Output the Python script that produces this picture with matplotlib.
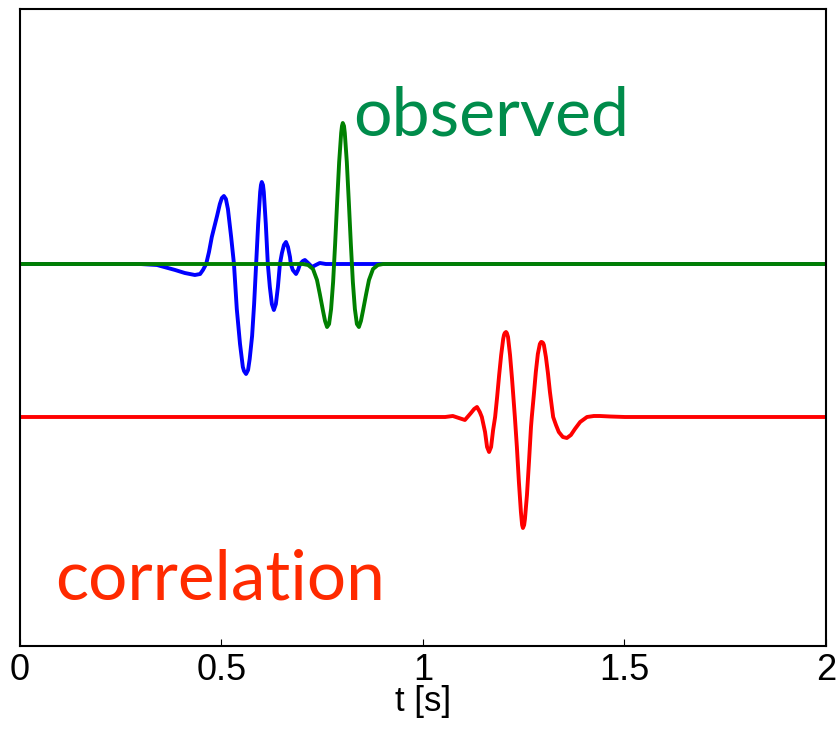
import matplotlib.pyplot as plt

# blue trace (synthetic)
t_blue = [0.0, 0.298, 0.340, 0.385, 0.409, 0.434, 0.447, 0.454, 0.462, 0.469, 0.476,
          0.489, 0.496, 0.501, 0.506, 0.511, 0.516, 0.524, 0.531, 0.538, 0.546, 0.553,
          0.556, 0.561, 0.566, 0.570, 0.576, 0.581, 0.586, 0.591, 0.596, 0.598, 0.600,
          0.603, 0.605, 0.610, 0.615, 0.620, 0.625, 0.630, 0.635, 0.640, 0.645, 0.650,
          0.655, 0.660, 0.665, 0.670, 0.672, 0.677, 0.685, 0.690, 0.695, 0.702, 0.707,
          0.715, 0.725, 0.734, 0.744, 0.759, 0.769, 2.0]
a_blue = [0.0, 0.0, -0.01, -0.06, -0.09, -0.11, -0.10, -0.06, 0.0, 0.12, 0.27,
          0.48, 0.60, 0.66, 0.68, 0.65, 0.55, 0.27, 0.0, -0.45, -0.80, -1.03,
          -1.07, -1.10, -1.06, -0.95, -0.72, -0.40, 0.0, 0.40, 0.72, 0.79, 0.82,
          0.79, 0.72, 0.40, 0.0, -0.23, -0.40, -0.46, -0.40, -0.23, 0.0, 0.11,
          0.19, 0.22, 0.17, 0.07, 0.0, -0.06, -0.10, -0.06, 0.0, 0.03, 0.04,
          0.01, -0.03, -0.01, 0.01, 0.0, 0.0, 0.0]

# green trace (observed)
t_green = [0.0, 0.702, 0.715, 0.727, 0.737, 0.744, 0.752, 0.757, 0.762, 0.767, 0.772,
           0.777, 0.782, 0.787, 0.792, 0.797, 0.799, 0.801, 0.804, 0.806, 0.811, 0.816,
           0.821, 0.826, 0.831, 0.836, 0.841, 0.846, 0.851, 0.859, 0.866, 0.876, 0.888,
           0.901, 2.0]
a_green = [0.0, 0.0, -0.01, -0.05, -0.16, -0.30, -0.47, -0.57, -0.63, -0.60, -0.45,
           -0.18, 0.20, 0.62, 1.02, 1.31, 1.38, 1.41, 1.38, 1.31, 1.02, 0.62,
           0.20, -0.18, -0.45, -0.60, -0.63, -0.57, -0.47, -0.30, -0.16, -0.05, -0.01,
           0.0, 0.0]

# red trace (correlation)
t_red = [0.0, 1.055, 1.074, 1.089, 1.104, 1.119, 1.127, 1.134, 1.141, 1.146, 1.154,
         1.159, 1.164, 1.169, 1.174, 1.179, 1.184, 1.189, 1.194, 1.199, 1.201, 1.203,
         1.206, 1.208, 1.211, 1.216, 1.221, 1.228, 1.233, 1.238, 1.243, 1.246, 1.248,
         1.251, 1.253, 1.258, 1.263, 1.268, 1.270, 1.275, 1.280, 1.285, 1.290, 1.293,
         1.295, 1.298, 1.300, 1.305, 1.310, 1.315, 1.323, 1.330, 1.337, 1.347, 1.357,
         1.367, 1.377, 1.390, 1.407, 1.424, 1.439, 1.464, 1.501, 2.0]
a_red = [0.0, 0.0, 0.01, -0.01, -0.03, 0.04, 0.08, 0.10, 0.05, 0.0, -0.15,
         -0.30, -0.35, -0.30, -0.13, 0.0, 0.20, 0.42, 0.62, 0.78, 0.82, 0.84,
         0.85, 0.84, 0.80, 0.62, 0.38, 0.0, -0.30, -0.65, -0.95, -1.08, -1.11,
         -1.08, -1.02, -0.78, -0.45, -0.10, 0.0, 0.22, 0.45, 0.63, 0.73, 0.75,
         0.75, 0.74, 0.72, 0.60, 0.44, 0.25, 0.0, -0.08, -0.15, -0.20, -0.21,
         -0.18, -0.12, -0.05, 0.0, 0.01, 0.01, 0.005, 0.0, 0.0]
red_offset = -1.53

x_ticks = [0, 0.5, 1, 1.5, 2]
x_tick_labels = ['0', '0.5', '1', '1.5', '2']

fig = plt.figure(figsize=(8.39, 7.32), dpi=100)
ax = fig.add_axes([0.0238, 0.1175, 0.9607, 0.8702])

lw = 2.8
ax.plot(t_blue, a_blue, color='#0000ff', lw=lw)
ax.plot(t_green, a_green, color='#008000', lw=lw)
ax.plot(t_red, [a + red_offset for a in a_red], color='#ff0000', lw=lw)

ax.text(0.826, 1.29, 'observed', color='#008c4b', fontsize=49, family='Lato',
        ha='left', va='baseline')
ax.text(0.086, -3.36, 'correlation', color='#ff2a00', fontsize=50, family='Lato',
        ha='left', va='baseline')

ax.set_xlim(0, 2)
ax.set_ylim(-3.82, 2.55)
ax.set_yticks([])
ax.set_xticks(x_ticks)
ax.set_xticklabels(x_tick_labels, family='Liberation Sans', fontsize=26)
ax.tick_params(axis='x', direction='in', length=5, width=0.8, pad=5)
ax.set_xlabel('t [s]', family='Liberation Sans', fontsize=25, labelpad=-2)
for s in ax.spines.values():
    s.set_linewidth(1.5)

fig.savefig('out.png', dpi=100)
